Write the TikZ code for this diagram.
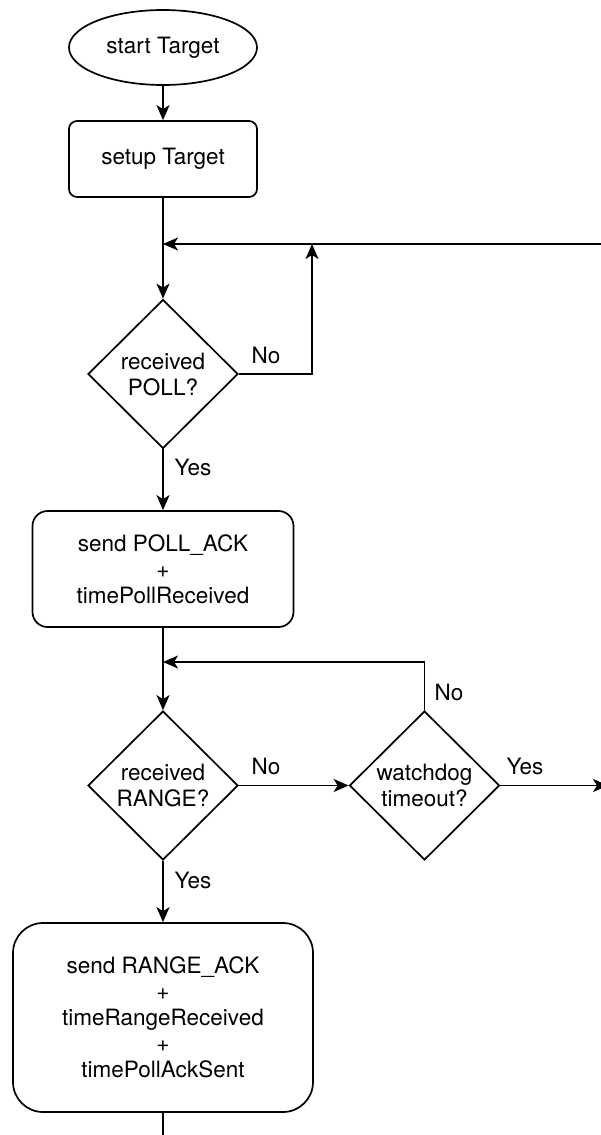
\documentclass[tikz,border=0pt]{standalone}
\usepackage{fontspec}
\setmainfont{TeX Gyre Heros}
\usetikzlibrary{shapes.geometric,arrows.meta}
\begin{document}
\begin{tikzpicture}[x=1pt,y=-1pt,
  line width=1.7pt,
  every node/.style={font=\fontsize{22.5}{26}\selectfont, inner sep=0pt, align=center},
  flow/.style={-{Stealth[length=15pt,width=13pt,inset=4pt]}},
  terminal/.style={draw, ellipse, minimum width=188pt, minimum height=75pt},
  process/.style={draw, rectangle, rounded corners=#1},
  decision/.style={draw, diamond, minimum width=150pt, minimum height=149pt},
  lbl/.style={}]
  % canvas
  \useasboundingbox (0,0) rectangle (601,1135);
  \clip (0,0) rectangle (601,1135);

  % nodes
  \node[terminal] (start) at (163,47.5) {start Target};
  \node[process=8pt, minimum width=188pt, minimum height=76pt] (setup) at (163,159) {setup Target};
  \node[decision] (poll) at (163,374) {received\\POLL?};
  \node[process=15pt, minimum width=261pt, minimum height=116pt] (pollack) at (163,569)
       {send POLL\_ACK\\+\\timePollReceived};
  \node[decision] (range) at (163,785.5) {received\\RANGE?};
  \node[decision] (watch) at (424.5,785.5) {watchdog\\timeout?};
  \node[process=30pt, minimum width=300pt, minimum height=189pt] (rangeack) at (163,1017.5)
       {send RANGE\_ACK\\+\\timeRangeReceived\\+\\timePollAckSent};

  % junction points and free ends
  \coordinate (join1) at (163,244);
  \coordinate (loopx) at (312,244);
  \coordinate (loopin) at (610,244);
  \coordinate (join2) at (163,662);
  \coordinate (yesout) at (608,785.5);
  \coordinate (tail) at (163,1145);

  % connectors
  \draw[flow] (start) -- (setup);
  \draw[flow] (setup) -- (poll);
  \draw[flow] (loopin) -- (join1);
  \draw[flow] (poll.east) -| (loopx);
  \draw[flow] (poll) -- (pollack);
  \draw[flow] (pollack) -- (range);
  \draw[flow] (watch.north) |- (join2);
  \draw[flow] (range) -- (watch);
  \draw[flow] (watch.east) -- (yesout);
  \draw[flow] (range) -- (rangeack);
  \draw (rangeack) -- (tail);

  % branch labels
  \node[lbl] (pollno) at (266,355) {No};
  \node[lbl] (pollyes) at (193,467) {Yes};
  \node[lbl] (rangeno) at (266,766) {No};
  \node[lbl] (rangeyes) at (193,880) {Yes};
  \node[lbl] (watchno) at (449,692) {No};
  \node[lbl] (watchyes) at (525,766) {Yes};
\end{tikzpicture}
\end{document}
